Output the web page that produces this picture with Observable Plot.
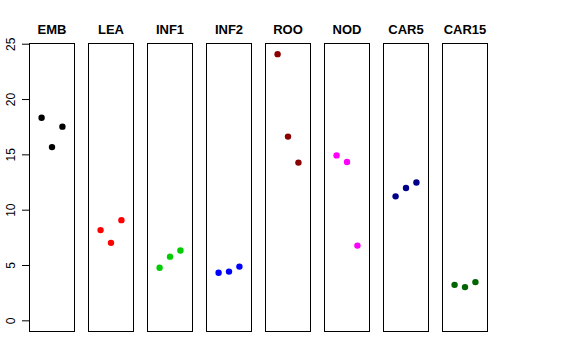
<!DOCTYPE html>
<html>
<head>
<meta charset="utf-8">
<script src="https://cdn.jsdelivr.net/npm/d3@7"></script>
<script src="https://cdn.jsdelivr.net/npm/@observablehq/plot@0.6"></script>
<style>
  html, body { margin: 0; padding: 0; background: #fff; }
  svg { font-family: "Liberation Sans", Arial, Helvetica, sans-serif; }
</style>
</head>
<body>
<div id="chart"></div>
<script>
const categories = ["EMB", "LEA", "INF1", "INF2", "ROO", "NOD", "CAR5", "CAR15"];
const colors = ["#000000", "#FF0000", "#00CD00", "#0000FF", "#8B0000", "#FF00FF", "#00008B", "#006400"];
const EMB = [18.35, 15.7, 17.55];
const LEA = [8.2, 7.05, 9.1];
const INF1 = [4.8, 5.8, 6.35];
const INF2 = [4.35, 4.45, 4.9];
const ROO = [24.1, 16.65, 14.3];
const NOD = [14.95, 14.35, 6.8];
const CAR5 = [11.25, 12.0, 12.5];
const CAR15 = [3.25, 3.05, 3.5];
const yTicks = [0, 5, 10, 15, 20, 25];

const series = [EMB, LEA, INF1, INF2, ROO, NOD, CAR5, CAR15];
const rows = [];
categories.forEach((c, i) => {
  series[i].forEach((v, j) => rows.push({cat: c, rep: j + 1, value: v, color: colors[i]}));
});

// R-style 4% axis expansion
const yMax = d3.max(rows, d => d.value);
const yPad = (yMax - 0) * 0.04;
const xPad = 4 * 0.04;

const chart = Plot.plot({
  width: 576,
  height: 360,
  marginLeft: 29,
  marginRight: 88,
  marginTop: 43,
  marginBottom: 29,
  style: {fontFamily: '"Liberation Sans", Arial, Helvetica, sans-serif', background: "#fff"},
  fx: {domain: categories, paddingInner: 0.2335, paddingOuter: 0, axis: null},
  x: {domain: [0 - xPad, 4 + xPad], axis: null},
  y: {domain: [0 - yPad, yMax + yPad], axis: null},
  marks: [
    Plot.frame({stroke: "black", strokeWidth: 1}),
    Plot.axisY({ticks: yTicks, tickSize: 7, tickPadding: 8, tickRotate: -90, fontSize: 12, label: null, stroke: "black", color: "black", textAnchor: "middle"}),
    Plot.text(categories, {fx: d => d, text: d => d, frameAnchor: "top", dy: -10, lineAnchor: "bottom", fontWeight: "bold", fontSize: 13, fill: "black"}),
    Plot.dot(rows, {fx: "cat", x: "rep", y: "value", fill: "color", r: 3.2, stroke: null})
  ]
});
document.getElementById("chart").appendChild(chart);
</script>
</body>
</html>
